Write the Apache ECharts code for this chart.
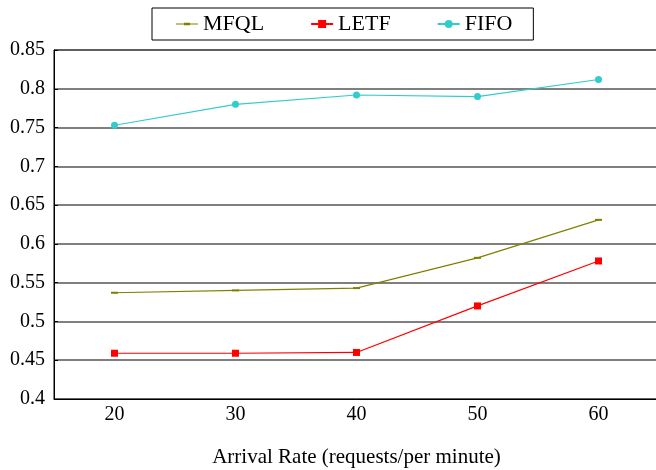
<!DOCTYPE html>
<html>
<head>
<meta charset="utf-8">
<script src="https://cdn.jsdelivr.net/npm/echarts@6/dist/echarts.min.js"></script>
<style>html,body{margin:0;padding:0;background:#fff}#c{width:656px;height:470px}</style>
</head>
<body>
<div id="c"></div>
<script>
var categories = ['20', '30', '40', '50', '60'];
var mfql = [0.537, 0.540, 0.543, 0.582, 0.631];
var letf = [0.459, 0.459, 0.460, 0.520, 0.578];
var fifo = [0.753, 0.780, 0.792, 0.790, 0.812];
var yTicks = {min: 0.4, max: 0.85, interval: 0.05};

var font = 'Liberation Serif';
var chart = echarts.init(document.getElementById('c'));
chart.setOption({
  animation: false,
  backgroundColor: '#fff',
  legend: {
    left: 152, top: 8,
    padding: [5, 21, 5, 24],
    itemGap: 46,
    itemWidth: 22, itemHeight: 10,
    borderColor: '#000', borderWidth: 1,
    textStyle: {fontFamily: font, fontSize: 22, color: '#000'},
    data: [
      {name: 'MFQL', icon: 'path://M0,4.4L22,4.4L22,5.6L0,5.6Z M8,3.8L14,3.8L14,6.2L8,6.2Z'},
      {name: 'LETF'},
      {name: 'FIFO'}
    ]
  },
  grid: {left: 54, top: 50, width: 605, bottom: 71, show: true, borderColor: '#000', borderWidth: 1,
         outerBoundsMode: 'none', containLabel: false},
  xAxis: {
    type: 'category',
    data: categories,
    boundaryGap: true,
    name: 'Arrival Rate (requests/per minute)',
    nameLocation: 'middle',
    nameGap: 48,
    nameTextStyle: {fontFamily: font, fontSize: 21, color: '#000'},
    axisLine: {lineStyle: {color: '#000', width: 1}},
    axisTick: {inside: true, length: 6, lineStyle: {color: '#000'}},
    axisLabel: {fontFamily: font, fontSize: 20, color: '#000', margin: 6},
    splitLine: {show: false}
  },
  yAxis: {
    type: 'value',
    min: yTicks.min, max: yTicks.max, interval: yTicks.interval,
    axisLine: {show: true, lineStyle: {color: '#000'}},
    axisTick: {show: true, inside: true, length: 4, lineStyle: {color: '#000'}},
    axisLabel: {fontFamily: font, fontSize: 20, color: '#000', margin: 9},
    splitLine: {show: true, lineStyle: {color: '#555', width: 1.5}}
  },
  series: [
    {name: 'MFQL', type: 'line', data: mfql, color: '#808000',
     symbol: 'rect', symbolSize: [7, 2], lineStyle: {width: 1.2}},
    {name: 'LETF', type: 'line', data: letf, color: '#ff0000',
     symbol: 'rect', symbolSize: 7, lineStyle: {width: 1.2}},
    {name: 'FIFO', type: 'line', data: fifo, color: '#33cccc',
     symbol: 'circle', symbolSize: 7, lineStyle: {width: 1.2}}
  ]
});
</script>
</body>
</html>
